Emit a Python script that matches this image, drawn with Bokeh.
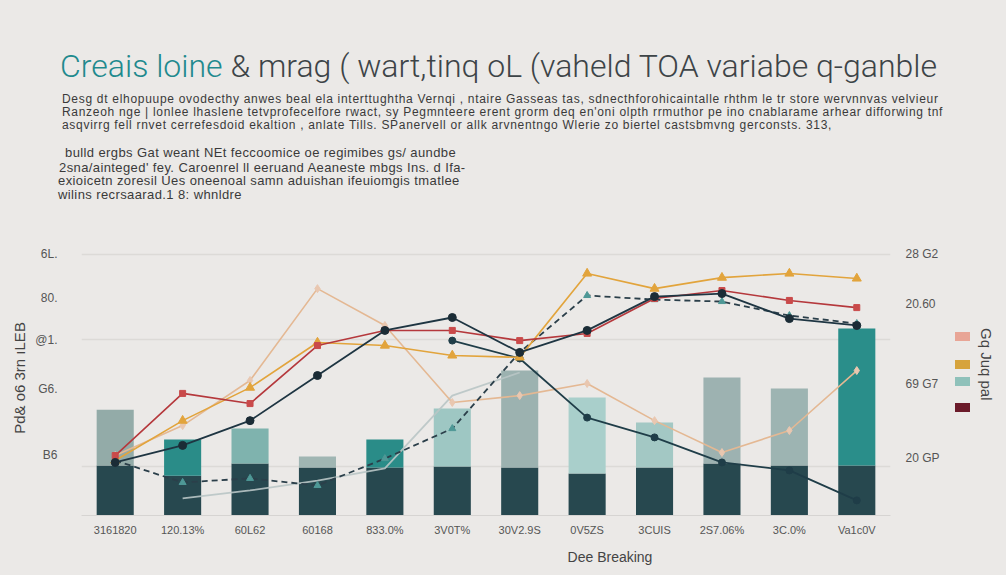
from bokeh.plotting import figure
from bokeh.layouts import column, row
from bokeh.models import (FactorRange, Range1d, LinearAxis, FixedTicker, Div)
from bokeh.embed import file_html
from bokeh.resources import INLINE

nan = float("nan")

# ---------------- data ----------------
categories = ["3161820", "120.13%", "60L62", "60168", "833.0%", "3V0T%",
              "30V2.9S", "0V5ZS", "3CUIS", "2S7.06%", "3C.0%", "Va1c0V"]
base_values = [18.2, 14.5, 18.9, 17.5, 17.5, 17.8, 17.5, 15.3, 17.5, 18.9, 18.2, 18.2]
top_values = [20.3, 13.1, 12.7, 4.0, 10.1, 21.1, 35.2, 27.6, 16.3, 31.3, 28.0, 49.8]

red_values = [21.8, 44.4, 40.7, 61.8, 67.3, 67.3, 63.6, 66.2, 78.9, 81.8, 78.2, 75.6]
navy_values = [19.3, 25.5, 34.5, 50.9, 67.3, 72.0, 59.3, 67.3, 79.6, 80.7, 71.6, 69.1]
orange_values = [20.0, 34.5, 46.5, 62.9, 61.8, 58.2, 57.5, 88.0, 82.5, 86.5, 88.0, 86.2]
peach_values = [21.8, 32.7, 49.1, 82.5, 69.1, 41.1, 43.6, 48.0, 34.5, 22.9, 30.9, 52.7]
dashed_values = [20.0, 12.0, 13.5, 10.9, 20.7, 31.6, 59.3, 80.0, 78.5, 77.8, 72.7, 69.8]
lower_values = [nan, nan, nan, nan, nan, 63.6, 57.1, 35.6, 28.4, 19.3, 16.4, 5.5]
gray_values = [nan, 6.2, 9.1, 12.7, 17.1, 43.6, 52.0, nan, nan, nan, nan, nan]

left_ticks = [22, 46, 64, 79, 95]
left_labels = ["B6", "G6.", "@1.", "80.", "6L."]
right_ticks = [21, 48, 77, 95]
right_labels = ["20 GP", "69 G7", "20.60", "28 G2"]

title_a = "Creais loine"
title_b = "&amp; mrag ( wart,tinq oL (vaheld TOA variabe q-ganble"
subtitle_lines = [
    "Desg dt elhopuupe ovodecthy anwes beal ela interttughtha Vernqi ,  ntaire Gasseas tas, sdnecthforohicaintalle rhthm le tr store wervnnvas velvieur",
    "Ranzeoh nge | lonlee lhaslene tetvprofecelfore rwact, sy Pegmnteere erent grorm deq en'oni olpth rrmuthor pe ino cnablarame arhear difforwing tnf",
    "asqvirrg fell rnvet cerrefesdoid ekaltion , anlate Tills. SPanervell or allk arvnentngo Wlerie zo biertel castsbmvng gerconsts. 313,",
]
para_lines = [
    "bulld ergbs Gat weant NEt feccoomice oe regimibes gs/ aundbe",
    "2sna/ainteged' fey.  Caroenrel ll eeruand Aeaneste mbgs Ins. d Ifa-",
    "exioicetn zoresil Ues oneenoal samn aduishan ifeuiomgis tmatlee",
    "wilins recrsaarad.1 8: whnldre",
]
y_axis_title = "Pd& o6 3rn \u0131LEB"
x_axis_title = "Dee Breaking"
legend_title = "Gq Juq pal"
legend_colors = ["#e8a596", "#d6a33c", "#8fc1ba", "#6b1b2a"]

# ---------------- styles ----------------
BG = "#ebe9e7"
DARK = "#27484f"
top_colors = ["#93aba8", "#2a8c88", "#7fb3ae", "#a0b6b3", "#2a8c88", "#9ec7c3",
              "#9cb2b0", "#a9cfcb", "#a3c8c4", "#9db2b1", "#9db4b2", "#2a8e8a"]
FONT = "Liberation Sans"

p = figure(width=937, height=305, x_range=FactorRange(*categories),
           y_range=Range1d(0, 100), output_backend="svg", toolbar_location=None,
           min_border_left=68, min_border_right=55, min_border_top=0,
           min_border_bottom=30, margin=0)
p.background_fill_color = BG
p.border_fill_color = BG
p.outline_line_color = None

# bars
p.vbar(x=categories, top=base_values, width=0.55, color=DARK, line_color=None)
tops = [b + t for b, t in zip(base_values, top_values)]
p.vbar(x=categories, bottom=base_values, top=tops, width=0.55,
       fill_color=top_colors, line_color=None)

# lines
p.line(categories, gray_values, line_color="#b9c5c5", line_width=1.8, line_alpha=0.9)
p.line(categories, peach_values, line_color="#e4b893", line_width=1.6)
p.scatter(categories, peach_values, marker="diamond", size=8, color="#e9c7b0")
p.line(categories, dashed_values, line_color="#2b3f4a", line_width=1.8, line_dash="6 4")
p.scatter(categories, dashed_values, marker="triangle", size=7, color="#4e9896")
p.line(categories, lower_values, line_color="#1f3d48", line_width=1.8)
p.scatter(categories, lower_values, marker="circle", size=7, color="#1f3d48")
p.line(categories, orange_values, line_color="#e2a43c", line_width=1.6)
p.scatter(categories, orange_values, marker="triangle", size=9, color="#e2a43c")
p.line(categories, red_values, line_color="#b5383c", line_width=1.6)
p.scatter(categories, red_values, marker="square", size=6, color="#c94a4a")
p.line(categories, navy_values, line_color="#1e3542", line_width=1.8)
p.scatter(categories, navy_values, marker="circle", size=8, color="#1b2c36")

# axes
p.xgrid.visible = False
p.ygrid.ticker = FixedTicker(ticks=[18, 64, 95])
p.ygrid.grid_line_color = "#dcdad7"
p.ygrid.grid_line_width = 1.5

p.xaxis.axis_line_color = "#d6d4d2"
p.xaxis.major_tick_line_color = None
p.xaxis.minor_tick_line_color = None
p.xaxis.major_tick_out = 0
p.xaxis.major_tick_in = 0
p.xaxis.major_label_text_font = FONT
p.xaxis.major_label_text_font_size = "11px"
p.xaxis.major_label_text_color = "#555555"
p.xaxis.major_label_standoff = 8

p.yaxis.ticker = FixedTicker(ticks=left_ticks)
p.yaxis.major_label_overrides = dict(zip(left_ticks, left_labels))
p.yaxis.axis_line_color = None
p.yaxis.major_tick_line_color = None
p.yaxis.minor_tick_line_color = None
p.yaxis.major_tick_out = 0
p.yaxis.major_tick_in = 0
p.yaxis.major_label_text_font = FONT
p.yaxis.major_label_text_font_size = "12px"
p.yaxis.major_label_text_color = "#555555"
p.yaxis.major_label_standoff = 24
p.yaxis.axis_label = y_axis_title
p.yaxis.axis_label_text_font = FONT
p.yaxis.axis_label_text_font_style = "normal"
p.yaxis.axis_label_text_font_size = "15px"
p.yaxis.axis_label_text_color = "#444444"
p.yaxis.axis_label_standoff = 4

raxis = LinearAxis(ticker=FixedTicker(ticks=right_ticks),
                   major_label_overrides=dict(zip(right_ticks, right_labels)))
raxis.axis_line_color = None
raxis.major_tick_line_color = None
raxis.minor_tick_line_color = None
raxis.major_tick_out = 0
raxis.major_tick_in = 0
raxis.major_label_text_font = FONT
raxis.major_label_text_font_size = "12px"
raxis.major_label_text_color = "#555555"
raxis.major_label_standoff = 15
p.add_layout(raxis, "right")

# ---------------- text blocks ----------------
def abs_text(left, top, text, size, color="#3a3a3a", font=FONT, extra=""):
    return (f'<div style="position:absolute;left:{left}px;top:{top}px;white-space:nowrap;'
            f'font-family:\'{font}\';font-size:{size}px;line-height:1;color:{color};{extra}">'
            f'{text}</div>')

parts = []
parts.append(abs_text(52, 42,
                      f'<span style="color:#1f8a8e">{title_a}</span> '
                      f'<span style="color:#3d4447">{title_b}</span>',
                      32, font="Roboto", extra="font-weight:300;"))
for line, top in zip(subtitle_lines, [85, 98, 111]):
    parts.append(abs_text(54, top, line, 12, extra="letter-spacing:0.7px;"))
for line, top, lx in zip(para_lines, [138, 153, 166, 180], [57, 51, 50, 50]):
    parts.append(abs_text(lx, top, line, 13, extra="letter-spacing:0.4px;"))
top_div = Div(text=f'<div style="position:relative;width:990px;height:232px">{"".join(parts)}</div>',
              width=990, height=232, margin=0)

leg_parts = []
for c, t in zip(legend_colors, [92, 120, 137, 163]):
    leg_parts.append(f'<div style="position:absolute;left:10px;top:{t}px;width:15px;'
                     f'height:9px;background:{c}"></div>')
leg_parts.append(abs_text(34, 88, legend_title, 15, color="#444444",
                          extra="writing-mode:vertical-rl;"))
legend_div = Div(text=f'<div style="position:relative;width:53px;height:305px;overflow:visible">{"".join(leg_parts)}</div>',
                 width=53, height=305, margin=0)

bottom_div = Div(text=f'<div style="position:relative;width:990px;height:22px">'
                      f'<div style="position:absolute;left:0;top:5px;width:1204px;text-align:center;'
                      f'font-family:\'{FONT}\';font-size:14px;line-height:1;color:#444444">{x_axis_title}</div></div>',
                 width=990, height=22, margin=0)

layout = column(top_div, row(p, legend_div, spacing=0, margin=0), bottom_div,
                spacing=0, margin=0)

html = file_html(layout, INLINE).replace(
    "<body>", '<body style="background-color:#ebe9e7;margin:0;padding:8px">')
open("out.html", "w").write(html)
